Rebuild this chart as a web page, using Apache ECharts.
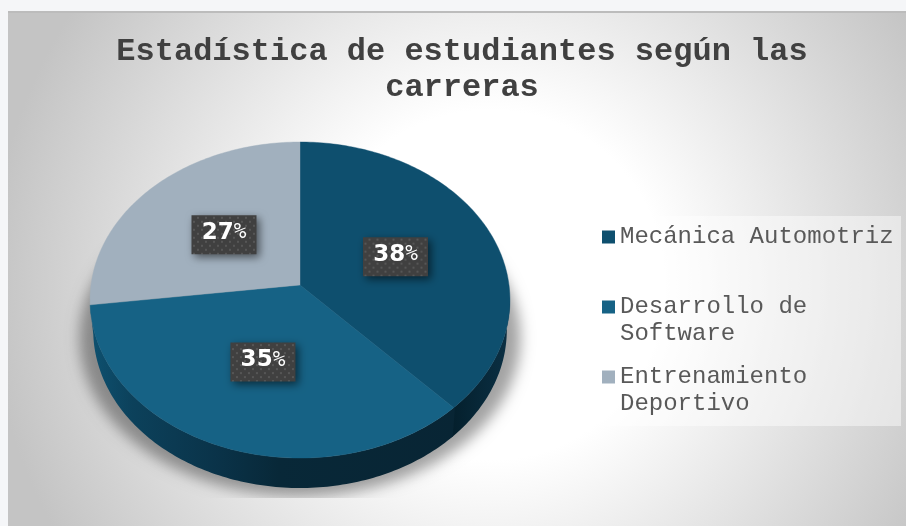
<!DOCTYPE html>
<html><head><meta charset="utf-8">
<style>html,body{margin:0;padding:0;background:#f5f6f8}#c{width:906px;height:526px}</style>
<script src="https://cdn.jsdelivr.net/npm/echarts@6/dist/echarts.min.js"></script>
</head><body><div id="c"></div>
<script>
const categories = ['Mecánica Automotriz', 'Desarrollo de Software', 'Entrenamiento Deportivo'];
const legendLines = ['Mecánica Automotriz', 'Desarrollo de\nSoftware', 'Entrenamiento\nDeportivo'];
const percentages = [38, 35, 27];
const topColors = ['#0e4f6e', '#166285', '#a1b0be'];
const titleText = 'Estadística de estudiantes según las\ncarreras';

// perspective disc
const view = { cx: 300, cy: 285, a: 209, b: 156.6, k: 0.0949, depth: 30, lowerScale: 0.985 };
const RAD = Math.PI / 180;
function project(deg, r) {
  const X = r * Math.sin(deg * RAD), Y = -r * Math.cos(deg * RAD), w = 1 - view.k * Y;
  return [view.cx + view.a * X / w, view.cy + view.b * Y / w];
}
function arc(from, to) {
  const pts = [], n = Math.max(2, Math.ceil(Math.abs(to - from)));
  for (let i = 0; i <= n; i++) pts.push(project(from + (to - from) * i / n, 1));
  return pts;
}
const total = percentages.reduce((s, v) => s + v, 0);
function startOf(i) { return percentages.slice(0, i).reduce((s, v) => s + v, 0) / total * 360; }

function hGrad(stops) {
  return { type: 'linear', global: true, x: 90, y: 0, x2: 510, y2: 0,
    colorStops: stops.map(s => ({ offset: s[0], color: s[1] })) };
}
const wallFill = [
  hGrad([[0, '#041d2a'], [0.86, '#041f2c'], [1, '#0b3044']]),
  hGrad([[0, '#0e5170'], [0.1, '#0c415b'], [0.3, '#0a3349'], [0.45, '#082838'], [1, '#082433']])
];

const dots = document.createElement('canvas');
dots.width = 8; dots.height = 8;
(function () {
  const g = dots.getContext('2d');
  g.fillStyle = '#404040'; g.fillRect(0, 0, 8, 8);
  g.fillStyle = '#565656';
  g.fillRect(1, 2, 2, 2); g.fillRect(5, 6, 2, 2);
})();

function renderSlice(params, api) {
  const i = params.seriesIndex - 1, v = api.value(0);
  const s = startOf(i), e = s + v / total * 360;
  const children = [];
  const ws = Math.max(s - 0.5, 94), we = Math.min(e, 266);
  if (wallFill[i] && we > ws) {
    const upper = arc(ws, we);
    const lower = upper.slice().reverse().map(p => [view.cx + (p[0] - view.cx) * view.lowerScale, p[1] + view.depth]);
    children.push({ type: 'polygon', z2: 1, shape: { points: upper.concat(lower) },
      style: { fill: wallFill[i] } });
  }
  children.push({ type: 'polygon', z2: 2, shape: { points: [project(0, 0)].concat(arc(s, e)) },
    style: { fill: topColors[i], stroke: topColors[i], lineWidth: 0.4 } });
  return { type: 'group', children };
}
function renderLabel(params, api) {
  const i = params.dataIndex, v = percentages[i];
  const c = project(startOf(i) + v / total * 180, 0.5);
  return { type: 'group', x: c[0], y: c[1], children: [
    { type: 'rect', z2: 3, shape: { x: -32.5, y: -19.5, width: 65, height: 39 },
      style: { fill: { image: dots, repeat: 'repeat' }, shadowColor: 'rgba(0,0,0,0.55)', shadowBlur: 8, shadowOffsetX: 3, shadowOffsetY: 3 } },
    { type: 'text', z2: 4, style: { text: '{d|' + v + '}{p|%}', x: 0, y: -2, align: 'center', verticalAlign: 'middle',
      rich: {
        d: { fill: '#ffffff', fontFamily: '"DejaVu Sans", sans-serif', fontWeight: 'bold', fontSize: 23 },
        p: { fill: '#ffffff', fontFamily: '"DejaVu Sans Mono", monospace', fontSize: 21 }
      } } }
  ] };
}
function renderShadow() {
  // only the blurred shadow lands on the page; the casting shape sits off to the left
  const away = 2000;
  const pts = arc(0, 360).map(p => [view.cx + (p[0] - view.cx) * 1.05 - away, p[1] + view.depth]);
  return { type: 'polygon', z2: 0, shape: { points: pts },
    clipPath: { type: 'rect', shape: { x: 60 - away, y: 240, width: 480 + away, height: 258 } },
    style: { fill: '#000', shadowColor: 'rgba(0,0,0,0.36)', shadowBlur: 14, shadowOffsetX: away, shadowOffsetY: 8 } };
}

const series = [{ type: 'custom', name: 'sombra', coordinateSystem: 'none', silent: true, data: [[0]], renderItem: renderShadow }]
  .concat(categories.map((name, i) => ({
    type: 'custom', name, coordinateSystem: 'none', silent: true,
    itemStyle: { color: topColors[i] }, data: [[percentages[i]]], renderItem: renderSlice
  })))
  .concat([{ type: 'custom', name: 'etiquetas', coordinateSystem: 'none', silent: true,
    data: percentages.map(v => [v]), renderItem: renderLabel }]);

const chart = echarts.init(document.getElementById('c'), null, { renderer: 'canvas' });
chart.setOption({
  animation: false,
  backgroundColor: '#f5f6f8',
  title: {
    text: titleText, left: 457, top: 29, textAlign: 'center',
    textStyle: { fontFamily: '"Liberation Mono", monospace', fontWeight: 'bold', fontSize: 32, lineHeight: 36, color: '#404040' }
  },
  legend: {
    orient: 'vertical', left: 602, top: 196.5, padding: 0, itemWidth: 13, itemHeight: 13, itemGap: -11,
    icon: 'rect', selectedMode: false, data: categories,
    formatter: n => {
      const t = legendLines[categories.indexOf(n)];
      return t.indexOf('\n') < 0 ? '\n' + t + '\n' : '\n' + t;
    },
    textStyle: { fontFamily: '"Liberation Mono", monospace', fontSize: 24, lineHeight: 27, color: '#595959' }
  },
  graphic: [
    { type: 'rect', z: -10, silent: true, shape: { x: 8, y: 12, width: 898, height: 514 },
      style: { fill: { type: 'radial', global: true, x: 490, y: 285, r: 500,
        colorStops: [{ offset: 0, color: '#ffffff' }, { offset: 0.35, color: '#ffffff' }, { offset: 1, color: '#c4c4c4' }] } } },
    { type: 'rect', z: -9, silent: true, shape: { x: 8, y: 11, width: 898, height: 2 }, style: { fill: '#bcbcbc' } },
    { type: 'rect', z: -8, silent: true, shape: { x: 590, y: 216, width: 311, height: 210 }, style: { fill: 'rgba(255,255,255,0.45)' } }
  ],
  series
});
</script></body></html>
